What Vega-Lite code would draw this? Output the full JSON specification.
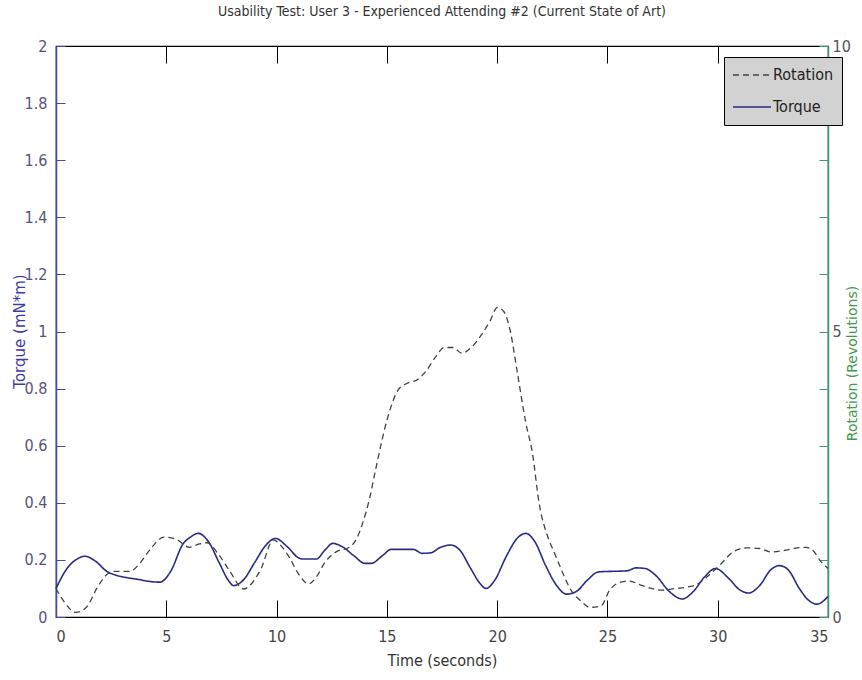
{
  "$schema": "https://vega.github.io/schema/vega-lite/v6.json",
  "autosize": {"type": "none"},
  "width": 772,
  "height": 571,
  "padding": {"left": 56, "top": 46, "right": 34, "bottom": 63},
  "background": "#ffffff",
  "title": {
    "text": "Usability Test: User 3 - Experienced Attending #2 (Current State of Art)",
    "font": "Liberation Sans Narrow, DejaVu Sans Condensed, sans-serif",
    "fontSize": 14,
    "fontWeight": "normal",
    "color": "#333333",
    "anchor": "middle",
    "offset": 19
  },
  "config": {
    "view": {"stroke": "#000000", "strokeWidth": 1.2},
    "axis": {
      "grid": false,
      "labelFont": "Liberation Sans Narrow, DejaVu Sans Condensed, sans-serif",
      "labelFontSize": 16,
      "titleFont": "DejaVu Sans, sans-serif",
      "titleFontSize": 15,
      "titleFontWeight": "normal"
    }
  },
  "datasets": {
    "torque": [
      {"series": "Torque", "t": 0, "v": 0.1},
      {"series": "Torque", "t": 0.5, "v": 0.17},
      {"series": "Torque", "t": 1.0, "v": 0.205},
      {"series": "Torque", "t": 1.3, "v": 0.213},
      {"series": "Torque", "t": 1.8, "v": 0.195},
      {"series": "Torque", "t": 2.3, "v": 0.16},
      {"series": "Torque", "t": 2.7, "v": 0.147},
      {"series": "Torque", "t": 3.2, "v": 0.138},
      {"series": "Torque", "t": 3.7, "v": 0.132},
      {"series": "Torque", "t": 4.2, "v": 0.125},
      {"series": "Torque", "t": 4.7, "v": 0.122},
      {"series": "Torque", "t": 5.2, "v": 0.16},
      {"series": "Torque", "t": 5.75, "v": 0.255},
      {"series": "Torque", "t": 6.1, "v": 0.28},
      {"series": "Torque", "t": 6.45, "v": 0.293},
      {"series": "Torque", "t": 6.9, "v": 0.265},
      {"series": "Torque", "t": 7.4, "v": 0.19},
      {"series": "Torque", "t": 7.8, "v": 0.13},
      {"series": "Torque", "t": 8.05, "v": 0.11},
      {"series": "Torque", "t": 8.5, "v": 0.13},
      {"series": "Torque", "t": 9.0, "v": 0.19},
      {"series": "Torque", "t": 9.5, "v": 0.25},
      {"series": "Torque", "t": 9.95, "v": 0.275},
      {"series": "Torque", "t": 10.5, "v": 0.245},
      {"series": "Torque", "t": 11.0, "v": 0.207},
      {"series": "Torque", "t": 11.2, "v": 0.203},
      {"series": "Torque", "t": 11.8, "v": 0.203},
      {"series": "Torque", "t": 12.2, "v": 0.235},
      {"series": "Torque", "t": 12.55, "v": 0.258},
      {"series": "Torque", "t": 13.0, "v": 0.245},
      {"series": "Torque", "t": 13.5, "v": 0.215},
      {"series": "Torque", "t": 14.0, "v": 0.188},
      {"series": "Torque", "t": 14.3, "v": 0.188},
      {"series": "Torque", "t": 14.8, "v": 0.215},
      {"series": "Torque", "t": 15.2, "v": 0.237},
      {"series": "Torque", "t": 16.2, "v": 0.237},
      {"series": "Torque", "t": 16.6, "v": 0.223},
      {"series": "Torque", "t": 17.0, "v": 0.225},
      {"series": "Torque", "t": 17.4, "v": 0.243},
      {"series": "Torque", "t": 17.9, "v": 0.252},
      {"series": "Torque", "t": 18.3, "v": 0.235},
      {"series": "Torque", "t": 18.8, "v": 0.17},
      {"series": "Torque", "t": 19.2, "v": 0.12},
      {"series": "Torque", "t": 19.5, "v": 0.1},
      {"series": "Torque", "t": 19.9, "v": 0.13},
      {"series": "Torque", "t": 20.4, "v": 0.21},
      {"series": "Torque", "t": 20.9, "v": 0.275},
      {"series": "Torque", "t": 21.3, "v": 0.293},
      {"series": "Torque", "t": 21.7, "v": 0.265},
      {"series": "Torque", "t": 22.2, "v": 0.18},
      {"series": "Torque", "t": 22.7, "v": 0.11},
      {"series": "Torque", "t": 23.15, "v": 0.08},
      {"series": "Torque", "t": 23.6, "v": 0.09},
      {"series": "Torque", "t": 24.1, "v": 0.13},
      {"series": "Torque", "t": 24.6, "v": 0.158},
      {"series": "Torque", "t": 25.9, "v": 0.162},
      {"series": "Torque", "t": 26.3, "v": 0.172},
      {"series": "Torque", "t": 26.7, "v": 0.17},
      {"series": "Torque", "t": 27.2, "v": 0.145},
      {"series": "Torque", "t": 27.8, "v": 0.09},
      {"series": "Torque", "t": 28.4, "v": 0.063},
      {"series": "Torque", "t": 28.9, "v": 0.09},
      {"series": "Torque", "t": 29.4, "v": 0.14},
      {"series": "Torque", "t": 29.9, "v": 0.17},
      {"series": "Torque", "t": 30.5, "v": 0.135},
      {"series": "Torque", "t": 31.0, "v": 0.095},
      {"series": "Torque", "t": 31.4, "v": 0.084},
      {"series": "Torque", "t": 31.9, "v": 0.11},
      {"series": "Torque", "t": 32.4, "v": 0.165},
      {"series": "Torque", "t": 32.8, "v": 0.18},
      {"series": "Torque", "t": 33.2, "v": 0.165},
      {"series": "Torque", "t": 33.7, "v": 0.1},
      {"series": "Torque", "t": 34.1, "v": 0.06},
      {"series": "Torque", "t": 34.5, "v": 0.045},
      {"series": "Torque", "t": 35.0, "v": 0.072}
    ],
    "rotation": [
      {"series": "Rotation", "t": 0, "v": 0.5},
      {"series": "Rotation", "t": 0.4, "v": 0.25},
      {"series": "Rotation", "t": 0.9, "v": 0.08},
      {"series": "Rotation", "t": 1.4, "v": 0.18},
      {"series": "Rotation", "t": 1.85, "v": 0.5},
      {"series": "Rotation", "t": 2.4, "v": 0.77},
      {"series": "Rotation", "t": 2.7, "v": 0.8},
      {"series": "Rotation", "t": 3.35, "v": 0.8},
      {"series": "Rotation", "t": 3.8, "v": 0.94},
      {"series": "Rotation", "t": 4.3, "v": 1.2},
      {"series": "Rotation", "t": 4.9, "v": 1.4},
      {"series": "Rotation", "t": 5.5, "v": 1.35},
      {"series": "Rotation", "t": 6.05, "v": 1.22},
      {"series": "Rotation", "t": 6.5, "v": 1.28},
      {"series": "Rotation", "t": 6.85, "v": 1.3},
      {"series": "Rotation", "t": 7.4, "v": 1.08},
      {"series": "Rotation", "t": 7.9, "v": 0.79},
      {"series": "Rotation", "t": 8.5, "v": 0.49},
      {"series": "Rotation", "t": 8.9, "v": 0.6},
      {"series": "Rotation", "t": 9.3, "v": 0.85},
      {"series": "Rotation", "t": 9.85, "v": 1.35},
      {"series": "Rotation", "t": 10.2, "v": 1.25},
      {"series": "Rotation", "t": 10.6, "v": 1.03},
      {"series": "Rotation", "t": 11.0, "v": 0.75},
      {"series": "Rotation", "t": 11.45, "v": 0.58},
      {"series": "Rotation", "t": 11.8, "v": 0.7},
      {"series": "Rotation", "t": 12.2, "v": 0.96},
      {"series": "Rotation", "t": 12.7, "v": 1.14},
      {"series": "Rotation", "t": 13.3, "v": 1.22},
      {"series": "Rotation", "t": 13.6, "v": 1.35},
      {"series": "Rotation", "t": 13.9, "v": 1.64},
      {"series": "Rotation", "t": 14.2, "v": 2.05},
      {"series": "Rotation", "t": 14.5, "v": 2.6},
      {"series": "Rotation", "t": 15.0, "v": 3.44},
      {"series": "Rotation", "t": 15.5, "v": 3.97},
      {"series": "Rotation", "t": 15.9, "v": 4.09},
      {"series": "Rotation", "t": 16.4, "v": 4.16},
      {"series": "Rotation", "t": 16.8, "v": 4.32},
      {"series": "Rotation", "t": 17.2, "v": 4.55},
      {"series": "Rotation", "t": 17.6, "v": 4.72},
      {"series": "Rotation", "t": 18.0, "v": 4.72},
      {"series": "Rotation", "t": 18.4, "v": 4.62},
      {"series": "Rotation", "t": 18.9, "v": 4.75},
      {"series": "Rotation", "t": 19.3, "v": 4.95},
      {"series": "Rotation", "t": 19.7, "v": 5.2},
      {"series": "Rotation", "t": 20.0, "v": 5.42},
      {"series": "Rotation", "t": 20.3, "v": 5.35},
      {"series": "Rotation", "t": 20.6, "v": 5.0},
      {"series": "Rotation", "t": 20.9, "v": 4.32},
      {"series": "Rotation", "t": 21.3, "v": 3.4},
      {"series": "Rotation", "t": 21.6, "v": 2.87},
      {"series": "Rotation", "t": 21.9, "v": 2.0},
      {"series": "Rotation", "t": 22.3, "v": 1.4},
      {"series": "Rotation", "t": 22.6, "v": 1.12},
      {"series": "Rotation", "t": 23.0, "v": 0.75},
      {"series": "Rotation", "t": 23.3, "v": 0.5},
      {"series": "Rotation", "t": 23.8, "v": 0.28},
      {"series": "Rotation", "t": 24.2, "v": 0.17},
      {"series": "Rotation", "t": 24.7, "v": 0.19},
      {"series": "Rotation", "t": 25.1, "v": 0.47},
      {"series": "Rotation", "t": 25.6, "v": 0.61},
      {"series": "Rotation", "t": 26.0, "v": 0.63},
      {"series": "Rotation", "t": 26.5, "v": 0.56},
      {"series": "Rotation", "t": 27.0, "v": 0.5},
      {"series": "Rotation", "t": 27.4, "v": 0.47},
      {"series": "Rotation", "t": 28.1, "v": 0.5},
      {"series": "Rotation", "t": 28.7, "v": 0.53},
      {"series": "Rotation", "t": 29.1, "v": 0.58},
      {"series": "Rotation", "t": 29.5, "v": 0.7},
      {"series": "Rotation", "t": 30.1, "v": 0.91},
      {"series": "Rotation", "t": 30.7, "v": 1.14},
      {"series": "Rotation", "t": 31.3, "v": 1.21},
      {"series": "Rotation", "t": 31.9, "v": 1.2},
      {"series": "Rotation", "t": 32.4, "v": 1.14},
      {"series": "Rotation", "t": 33.1, "v": 1.17},
      {"series": "Rotation", "t": 33.6, "v": 1.21},
      {"series": "Rotation", "t": 34.0, "v": 1.22},
      {"series": "Rotation", "t": 34.3, "v": 1.17},
      {"series": "Rotation", "t": 34.7, "v": 0.96},
      {"series": "Rotation", "t": 35.0, "v": 0.85}
    ]
  },
  "layer": [
    {
      "data": {"name": "torque"},
      "mark": {"type": "line", "interpolate": "monotone", "strokeWidth": 1.6},
      "encoding": {
        "x": {
          "field": "t", "type": "quantitative",
          "scale": {"domain": [0, 35], "nice": false, "zero": false},
          "axis": {
            "orient": "bottom",
            "values": [0, 5, 10, 15, 20, 25, 30, 35],
            "title": "Time (seconds)",
            "titleFont": "Liberation Sans Narrow, DejaVu Sans Condensed, sans-serif",
            "titleFontSize": 16,
            "titleColor": "#333333",
            "titleX": 386,
            "titleY": 43,
            "titleAlign": "center",
            "titleBaseline": "middle",
            "domainColor": "#000000",
            "domainWidth": 1.2,
            "tickColor": "#000000",
            "tickSize": -17,
            "labelPadding": 36,
            "labelColor": "#444444",
            "labelBaseline": "middle"
          }
        },
        "y": {
          "field": "v", "type": "quantitative",
          "scale": {"domain": [0, 2], "nice": false},
          "axis": {
            "orient": "left",
            "values": [0, 0.2, 0.4, 0.6, 0.8, 1, 1.2, 1.4, 1.6, 1.8, 2],
            "format": ".1~f",
            "title": "Torque (mN*m)",
            "titleColor": "#3c3ca8",
            "titleX": -37,
            "titleY": 285,
            "titleAngle": 270,
            "titleAlign": "center",
            "titleBaseline": "middle",
            "domainColor": "#4646b0",
            "domainWidth": 1.5,
            "tickColor": "#4646b0",
            "tickSize": -9,
            "labelPadding": 18,
            "labelColor": "#55557a"
          }
        },
        "color": {
          "field": "series", "type": "nominal",
          "scale": {"domain": ["Rotation", "Torque"], "range": ["#3d473d", "#2a2a85"]},
          "legend": {
            "orient": "none",
            "legendX": 668,
            "legendY": 11,
            "title": null,
            "fillColor": "#d2d2d2",
            "strokeColor": "#000000",
            "padding": 8,
            "symbolType": "stroke",
            "symbolSize": 1444,
            "symbolStrokeWidth": 1.5,
            "clipHeight": 20,
            "rowPadding": 12,
            "labelFont": "Liberation Sans Narrow, DejaVu Sans Condensed, sans-serif",
            "labelFontSize": 16,
            "labelColor": "#222222",
            "labelOffset": 1
          }
        },
        "strokeDash": {
          "field": "series", "type": "nominal",
          "scale": {"domain": ["Rotation", "Torque"], "range": [[6, 4], [1, 0]]},
          "legend": null
        }
      }
    },
    {
      "data": {"name": "rotation"},
      "mark": {"type": "line", "interpolate": "monotone", "strokeWidth": 1.3},
      "encoding": {
        "x": {
          "field": "t", "type": "quantitative",
          "axis": {
            "orient": "top",
            "values": [0, 5, 10, 15, 20, 25, 30, 35],
            "labels": false,
            "title": null,
            "domain": false,
            "tickColor": "#000000",
            "tickSize": -17
          }
        },
        "y": {
          "field": "v", "type": "quantitative",
          "scale": {"domain": [0, 10], "nice": false},
          "axis": {
            "orient": "right",
            "values": [0, 1, 2, 3, 4, 5, 6, 7, 8, 9, 10],
            "labelExpr": "datum.value % 5 === 0 ? datum.label : ''",
            "title": "Rotation (Revolutions)",
            "titleColor": "#3f9a4a",
            "titleFontSize": 14,
            "titleX": 24,
            "titleY": 317,
            "titleAngle": 270,
            "titleAlign": "center",
            "titleBaseline": "middle",
            "domainColor": "#3f9a7a",
            "domainWidth": 1.5,
            "tickColor": "#3f9a7a",
            "tickSize": -9,
            "labelPadding": 13,
            "labelColor": "#555555"
          }
        },
        "color": {"field": "series", "type": "nominal"},
        "strokeDash": {"field": "series", "type": "nominal", "legend": null}
      }
    }
  ],
  "resolve": {"scale": {"y": "independent"}, "axis": {"x": "independent"}}
}
